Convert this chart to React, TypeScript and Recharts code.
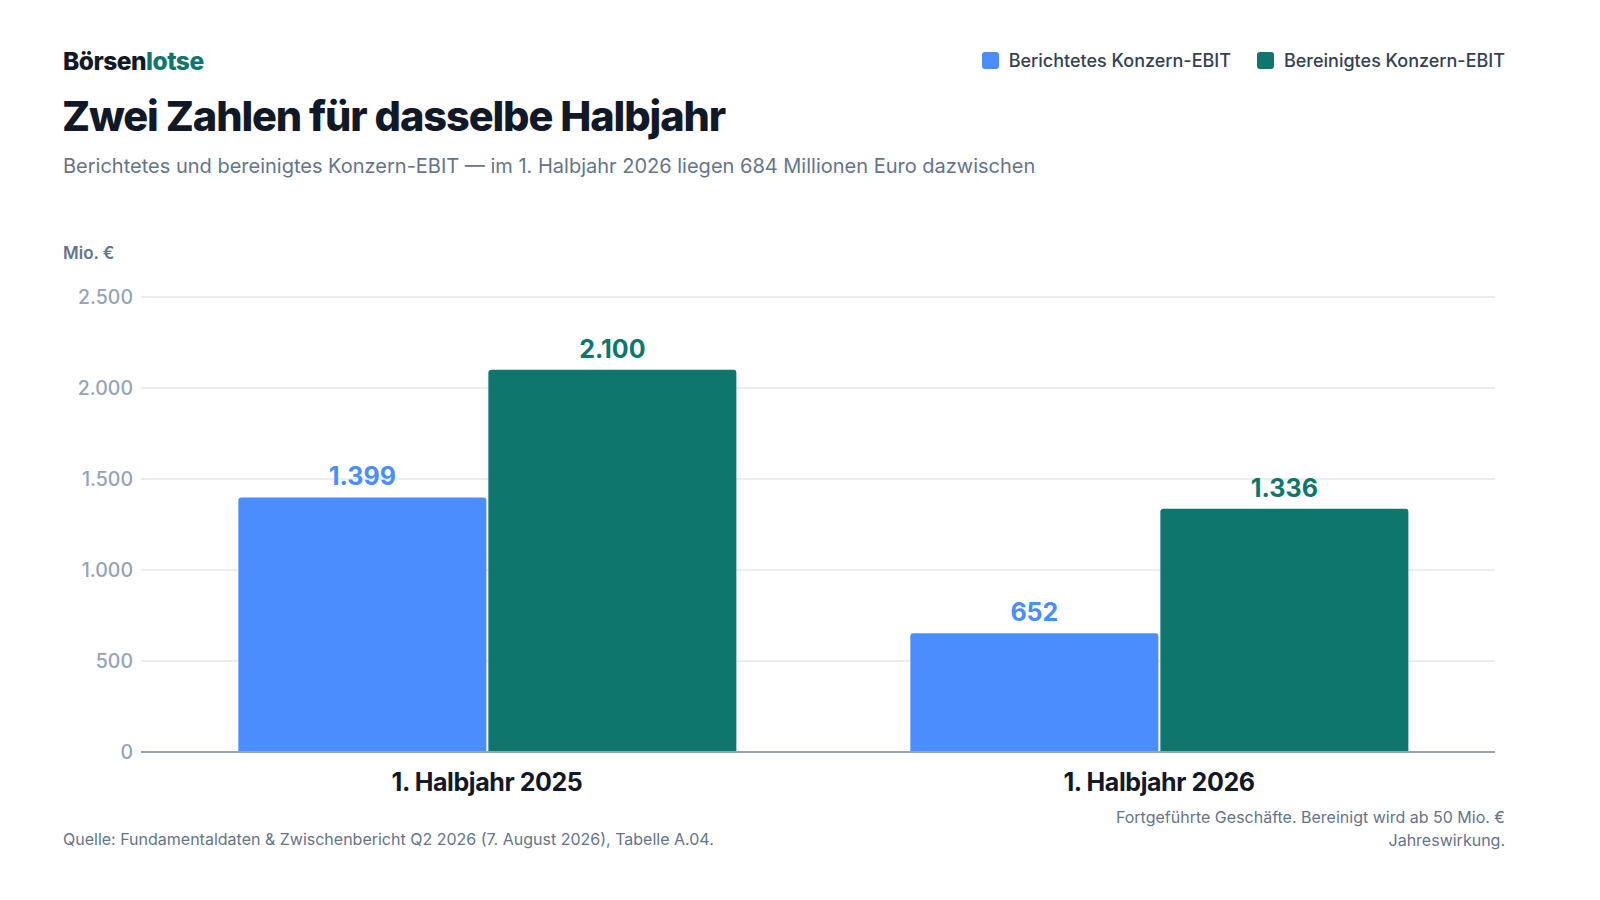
import React from 'react';
import { BarChart, Bar, XAxis, YAxis, CartesianGrid, LabelList } from 'recharts';

const categories = ['1. Halbjahr 2025', '1. Halbjahr 2026'];
const reportedEbit = [1399, 652];
const adjustedEbit = [2100, 1336];
const yTicks = [0, 500, 1000, 1500, 2000, 2500];

const BLUE = '#4b8dff';
const TEAL = '#0f766e';
const FONT = 'Inter, "Noto Sans", sans-serif';

const data = categories.map((period, i) => ({
  period,
  reported: reportedEbit[i],
  adjusted: adjustedEbit[i],
}));

const fmt = (v: number | string) =>
  String(Math.round(Number(v))).replace(/\B(?=(\d{3})+(?!\d))/g, '.');

function LegendItem({ color, label }: { color: string; label: string }) {
  return (
    <div style={{ display: 'flex', alignItems: 'center', gap: 10 }}>
      <span style={{ width: 17, height: 17, borderRadius: 3, background: color, display: 'inline-block' }} />
      <span>{label}</span>
    </div>
  );
}

export default function App() {
  return (
    <div
      style={{
        position: 'absolute',
        left: 0,
        top: 0,
        width: 1600,
        height: 900,
        background: '#ffffff',
        fontFamily: FONT,
        overflow: 'hidden',
      }}
    >
      <BarChart
        width={1600}
        height={900}
        data={data}
        margin={{ top: 297, right: 105, bottom: 0, left: 0 }}
        barCategoryGap="13%"
        barGap={2}
        style={{ position: 'absolute', left: 0, top: 0 }}
      >
        <CartesianGrid vertical={false} stroke="#e5e7eb" strokeWidth={1.5} />
        <XAxis
          dataKey="period"
          height={148}
          padding={{ left: 10, right: 0 }}
          axisLine={{ stroke: '#9aa3b5', strokeWidth: 2 }}
          tickLine={false}
          tickSize={0}
          tickMargin={21}
          tick={{ fill: '#111827', fontSize: 25, fontWeight: 700, fontFamily: FONT, letterSpacing: -0.4 }}
        />
        <YAxis
          width={141}
          domain={[0, 2500]}
          ticks={yTicks}
          axisLine={false}
          tickLine={false}
          tickSize={0}
          tickMargin={8}
          tickFormatter={fmt}
          tick={{ fill: '#94a3b8', fontSize: 19.5, fontWeight: 500, fontFamily: FONT }}
        />
        <Bar dataKey="reported" fill={BLUE} radius={[3, 3, 0, 0]} isAnimationActive={false}>
          <LabelList
            dataKey="reported"
            position="top"
            offset={12}
            formatter={fmt}
            style={{ fill: BLUE, fontSize: 25, fontWeight: 700, fontFamily: FONT }}
          />
        </Bar>
        <Bar dataKey="adjusted" fill={TEAL} radius={[3, 3, 0, 0]} isAnimationActive={false}>
          <LabelList
            dataKey="adjusted"
            position="top"
            offset={12}
            formatter={fmt}
            style={{ fill: TEAL, fontSize: 25, fontWeight: 700, fontFamily: FONT }}
          />
        </Bar>
      </BarChart>

      <div style={{ position: 'absolute', left: 63, top: 46, fontSize: 24.5, fontWeight: 800, letterSpacing: -0.5, color: '#111827' }}>
        Börsen<span style={{ color: TEAL }}>lotse</span>
      </div>
      <div
        style={{
          position: 'absolute',
          right: 95,
          top: 50,
          display: 'flex',
          gap: 26,
          fontSize: 18,
          fontWeight: 500,
          color: '#334155',
        }}
      >
        <LegendItem color={BLUE} label="Berichtetes Konzern-EBIT" />
        <LegendItem color={TEAL} label="Bereinigtes Konzern-EBIT" />
      </div>
      <div style={{ position: 'absolute', left: 62, top: 91, fontSize: 41.5, fontWeight: 800, letterSpacing: -1.1, color: '#111827' }}>
        Zwei Zahlen für dasselbe Halbjahr
      </div>
      <div style={{ position: 'absolute', left: 63, top: 154, fontSize: 20, color: '#64748b' }}>
        Berichtetes und bereinigtes Konzern-EBIT — im 1. Halbjahr 2026 liegen 684 Millionen Euro dazwischen
      </div>
      <div style={{ position: 'absolute', left: 63, top: 243, fontSize: 17, fontWeight: 600, color: '#64748b' }}>
        Mio. €
      </div>
      <div style={{ position: 'absolute', left: 63, top: 829, fontSize: 16, color: '#64748b' }}>
        Quelle: Fundamentaldaten &amp; Zwischenbericht Q2 2026 (7. August 2026), Tabelle A.04.
      </div>
      <div
        style={{
          position: 'absolute',
          right: 95,
          top: 806,
          width: 420,
          textAlign: 'right',
          fontSize: 16,
          lineHeight: '23px',
          color: '#64748b',
        }}
      >
        Fortgeführte Geschäfte. Bereinigt wird ab 50 Mio. € Jahreswirkung.
      </div>
    </div>
  );
}
